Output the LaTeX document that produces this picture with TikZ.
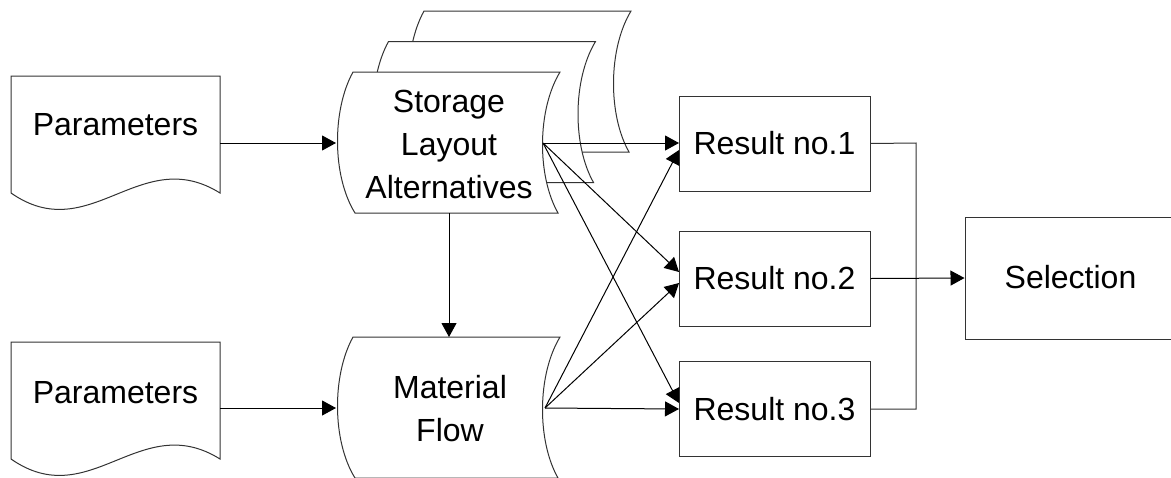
\documentclass[tikz,border=0pt]{standalone}
\usepackage{fontspec}
\setmainfont{Liberation Sans}
\usetikzlibrary{arrows.meta}
\begin{document}
\begin{tikzpicture}[x=0.5pt,y=-0.5pt,
  line width=0.5pt,
  outline/.style={draw=black!80, fill=white},
  lbl/.style={font=\fontsize{16}{21.5}\selectfont, align=center, inner sep=0pt},
  resbox/.style={draw=black!80, fill=white, minimum width=95.5pt, minimum height=47.5pt, inner sep=0pt,
                 font=\fontsize{16}{21.5}\selectfont},
  link/.style={draw=black, -{Triangle[length=7pt,width=7.5pt]}},
  wire/.style={draw=black!80}
]
\useasboundingbox (0,0) rectangle (1171,477);

% document shapes with a wavy lower edge
\newcommand{\docshape}[2]{%
  \path[outline] (11,#1) -- (220,#1) -- (220,#1+117)
    .. controls (140,#1+67) and (90,#1+172) .. (11,#1+117) -- cycle;}
\docshape{76}{}
\docshape{342}{}

% stored-data shapes (curved sides)
\newcommand{\storeshape}[3]{%
  \begin{scope}[shift={(#1,#2)}]
  \path[outline] (353,#3) -- (560,#3)
    .. controls (537,#3+38) and (537,#3+104) .. (558,#3+141)
    -- (355,#3+141)
    .. controls (332,#3+104) and (332,#3+38) .. (353,#3) -- cycle;
  \end{scope}}
\storeshape{71}{-61}{72}
\storeshape{35.5}{-30.5}{72}
\storeshape{0}{0}{72}
\storeshape{0}{0}{337}

% labels
\node[lbl] (par1) at (115.5,125) {Parameters};
\node[lbl] (par2) at (115.5,393) {Parameters};
\node[lbl] (sla) at (449,144) {Storage\\Layout\\Alternatives};
\node[lbl] (mf) at (450,409) {Material\\Flow};

% result and selection boxes
\node[resbox] (r1) at (774.5,143.5) {Result no.1};
\node[resbox] (r2) at (774.5,278.5) {Result no.2};
\node[resbox] (r3) at (774.5,409) {Result no.3};
\node[resbox, minimum width=103.5pt, minimum height=61pt] (sel) at (1068.5,278) {};
\node[lbl] (seltxt) at (1070.5,277) {Selection};

% connection points
\coordinate (p1out) at (220,143);
\coordinate (p2out) at (220,408);
\coordinate (slain) at (336,143);
\coordinate (slaout) at (543,143);
\coordinate (slabot) at (449,213);
\coordinate (mfin) at (336,408);
\coordinate (mftop) at (449,337);
\coordinate (mfout) at (545,408);
\coordinate (r1a) at (679,143);
\coordinate (r1b) at (679,150);
\coordinate (r2a) at (679,272);
\coordinate (r2b) at (679,283);
\coordinate (r3a) at (679,403);
\coordinate (r3b) at (679,409);
\coordinate (bus) at (916,143);

% connectors
\draw[link] (p1out) -- (slain);
\draw[link] (p2out) -- (mfin);
\draw[link] (slabot) -- (mftop);
\draw[link] (slaout) -- (r1a);
\draw[link] (slaout) -- (r2a);
\draw[link] (slaout) -- (r3a);
\draw[link] (mfout) -- (r1b);
\draw[link] (mfout) -- (r2b);
\draw[link] (mfout) -- (r3b);
\draw[wire] (r1.east) -- (bus) |- (r3.east);
\draw[link] (r2.east) -- (sel.west);
\end{tikzpicture}
\end{document}
